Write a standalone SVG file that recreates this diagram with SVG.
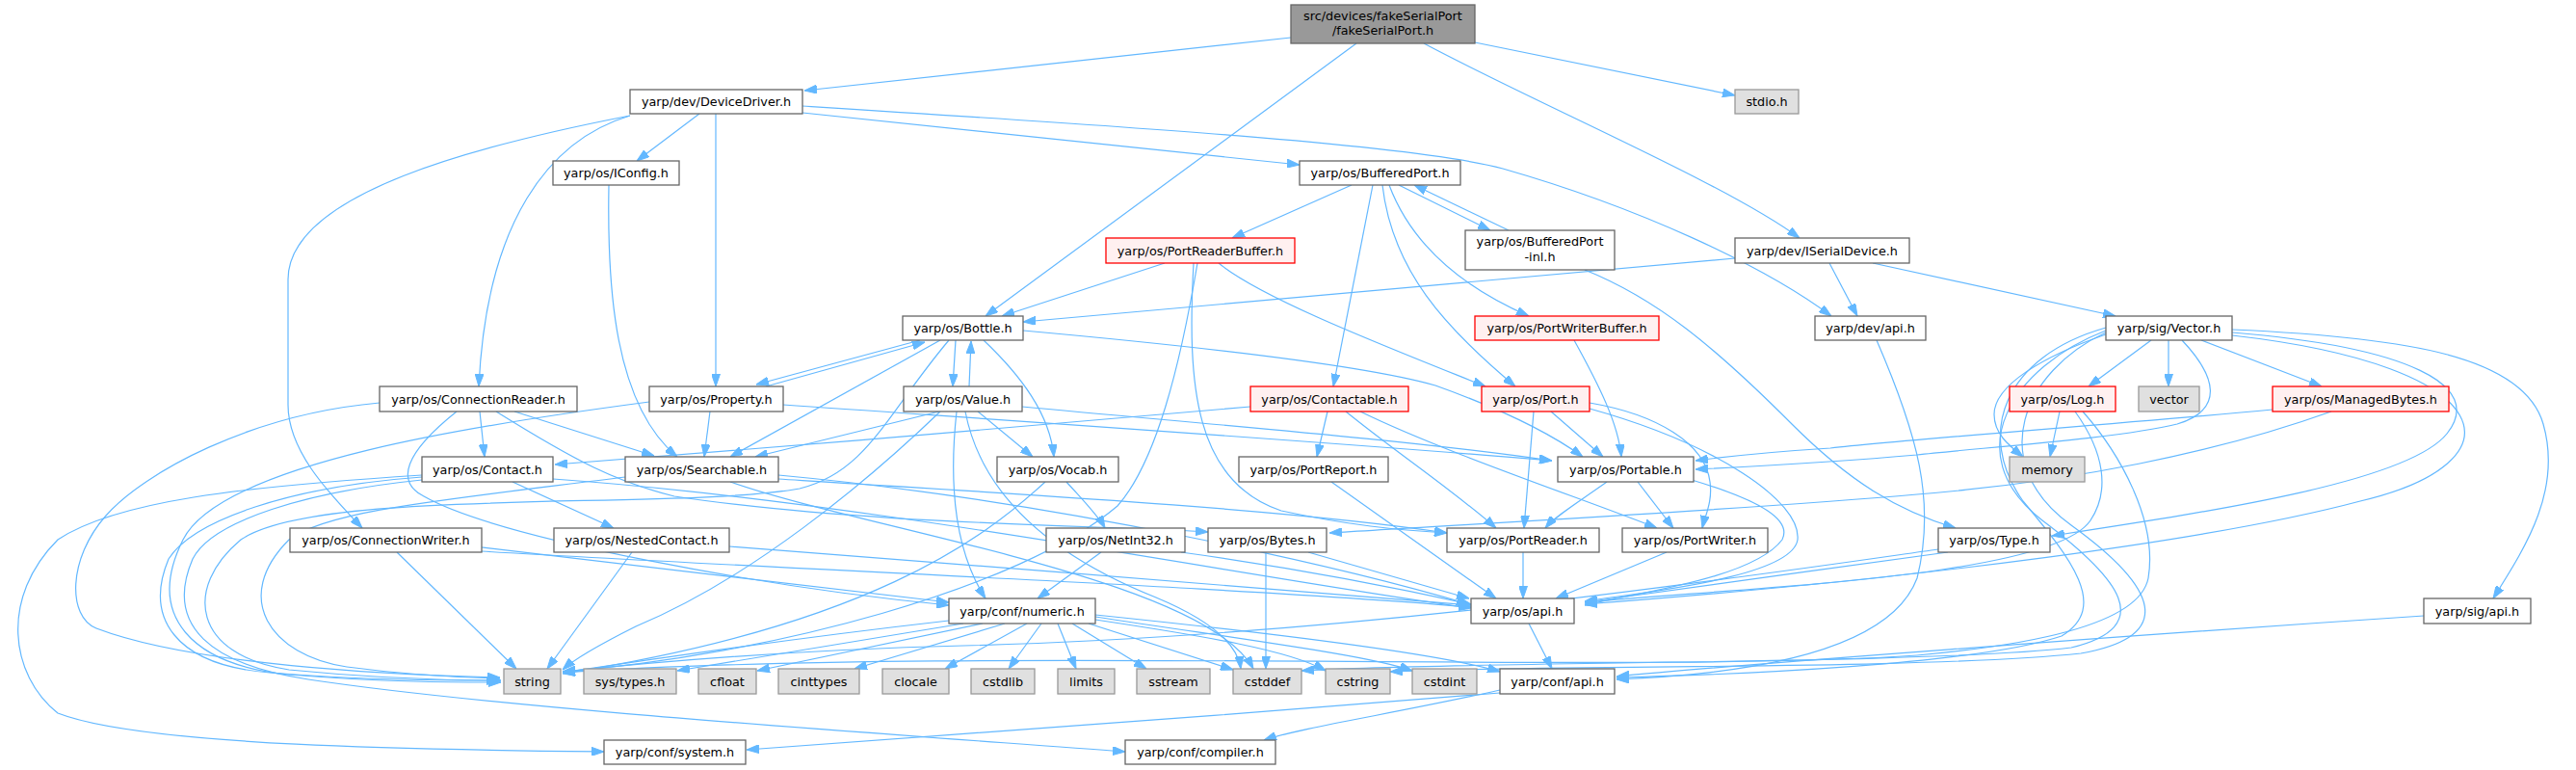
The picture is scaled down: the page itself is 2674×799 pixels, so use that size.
<svg xmlns="http://www.w3.org/2000/svg" width="2674" height="799" viewBox="0 0 2674 799">
<style>
rect{stroke-width:1.3}
.n rect{fill:#ffffff;stroke:#666666}
.g rect{fill:#e0e0e0;stroke:#999999}
.r rect{fill:#fff0f0;stroke:#ff0000}
.t rect{fill:#999999;stroke:#666666}
text{font-family:"DejaVu Sans","Liberation Sans",sans-serif;font-size:12.8px;text-anchor:middle;fill:#000000}
#edges path{fill:none;stroke:#63b8ff;stroke-width:1.2;marker-end:url(#a)}
</style>
<defs>
<marker id="a" viewBox="0 0 13 9" refX="13" refY="4.5" markerWidth="13" markerHeight="9" markerUnits="userSpaceOnUse" orient="auto"><path d="M0,0 L13,4.5 L0,9 z" fill="#63b8ff" stroke="#63b8ff" stroke-width="1"/></marker>
</defs>
<rect width="2674" height="799" fill="#ffffff"/>
<g id="edges">
<path d="M1340,39 L835,94"/>
<path d="M1408,45 L1023,328"/>
<path d="M1531,44 L1801,99"/>
<path d="M1478,45 C1600,110 1790,190 1868,247"/>
<path d="M726,118 L661,167"/>
<path d="M743,118 L743,401"/>
<path d="M654,120 C570,145 505,230 497,401"/>
<path d="M654,120 C500,150 299,200 299,290 L299,420 C299,470 345,515 376,548"/>
<path d="M833,117 L1349,171"/>
<path d="M833,110 C1150,130 1470,150 1560,175 C1700,215 1830,275 1901,328"/>
<path d="M1801,268 L1062,334"/>
<path d="M1899,273 L1928,328"/>
<path d="M1944,273 L2196,328"/>
<path d="M632,192 C630,300 638,420 703,474"/>
<path d="M1403,192 L1279,247"/>
<path d="M1425,192 L1384,401"/>
<path d="M1435,192 C1445,280 1500,340 1573,401"/>
<path d="M1442,192 C1460,240 1500,290 1587,328"/>
<path d="M1452,192 L1547,239"/>
<path d="M1566,239 L1468,192"/>
<path d="M1645,280 C1720,310 1780,360 1860,440 C1920,500 1970,530 2030,548"/>
<path d="M1209,273 L1040,328"/>
<path d="M1265,273 C1310,310 1440,360 1542,401"/>
<path d="M1239,273 C1232,400 1240,500 1330,530 C1400,545 1450,550 1502,553"/>
<path d="M1243,273 C1225,380 1200,480 1160,525 C1060,610 800,680 584,697"/>
<path d="M955,353 L785,399"/>
<path d="M795,401 L960,355"/>
<path d="M992,353 L989,401"/>
<path d="M1006,401 L1008,354"/>
<path d="M976,353 L758,474"/>
<path d="M1021,353 C1060,390 1090,430 1094,474"/>
<path d="M1062,343 C1250,360 1420,380 1490,400 C1560,425 1610,450 1643,474"/>
<path d="M985,353 C920,430 900,490 830,507 C700,530 330,505 250,560 C190,610 200,680 300,695 C400,705 470,706 520,706"/>
<path d="M1948,353 C1990,450 2010,520 1990,600 C1960,680 1800,700 1678,705"/>
<path d="M2233,353 L2168,401"/>
<path d="M2251,353 L2251,401"/>
<path d="M2285,353 L2410,401"/>
<path d="M2186,347 C2120,370 2070,400 2070,430 C2070,450 2085,462 2100,474"/>
<path d="M2265,353 C2300,390 2310,425 2260,440 C2200,455 2050,465 1990,472 C1900,480 1800,485 1760,487"/>
<path d="M2317,345 C2500,360 2580,400 2540,450 C2500,500 2300,530 2130,556"/>
<path d="M2317,348 C2600,380 2620,480 2450,520 C2300,560 2000,600 1645,627"/>
<path d="M2186,340 C2080,370 2050,450 2100,520 C2150,580 2190,630 2140,660 C2050,690 1800,700 1678,703"/>
<path d="M2186,343 C2090,380 2030,470 2120,540 C2200,600 2240,650 2150,672 C2000,690 1500,686 1351,696"/>
<path d="M2186,345 C2100,385 2060,480 2150,545 C2240,610 2260,660 2160,678 C2000,695 1600,690 1443,697"/>
<path d="M2317,342 C2500,350 2620,370 2640,440 C2660,510 2620,570 2588,621"/>
<path d="M2138,427 L2128,474"/>
<path d="M2154,427 C2185,470 2190,510 2170,540 C2130,600 1800,610 1645,625"/>
<path d="M2162,427 C2200,470 2240,540 2230,600 C2220,650 2100,670 1990,680 C1700,700 1000,670 584,698"/>
<path d="M2359,425 C2200,440 1990,455 1900,465 C1820,470 1790,474 1760,478"/>
<path d="M2420,427 C2300,470 2150,500 1990,513 C1800,530 1500,545 1380,553"/>
<path d="M1610,427 L1664,474"/>
<path d="M1592,427 L1582,548"/>
<path d="M1650,418 C1720,430 1770,460 1775,500 C1778,520 1770,535 1767,548"/>
<path d="M1650,424 C1780,460 1870,520 1866,560 C1860,600 1700,615 1645,624"/>
<path d="M1668,500 C1640,520 1615,535 1604,548"/>
<path d="M1700,500 L1737,548"/>
<path d="M1756,498 C1830,520 1860,540 1850,560 C1820,600 1700,615 1645,628"/>
<path d="M1298,422 C1100,440 800,465 576,482"/>
<path d="M1378,427 L1367,474"/>
<path d="M1397,427 C1450,470 1510,510 1553,548"/>
<path d="M1412,427 C1500,470 1650,520 1720,548"/>
<path d="M1382,500 L1553,621"/>
<path d="M1634,353 C1660,400 1680,440 1683,474"/>
<path d="M1581,573 L1581,621"/>
<path d="M1730,573 L1615,621"/>
<path d="M1587,647 L1611,694"/>
<path d="M1314,573 L1314,694"/>
<path d="M1358,573 L1525,621"/>
<path d="M1107,500 C1125,520 1140,535 1147,548"/>
<path d="M1085,500 C1020,560 900,650 584,699"/>
<path d="M1143,573 L1077,621"/>
<path d="M1226,573 C1350,590 1450,610 1527,627"/>
<path d="M975,427 L784,474"/>
<path d="M1015,427 L1072,474"/>
<path d="M1061,422 C1250,440 1450,455 1611,478"/>
<path d="M976,427 C900,500 780,600 660,650 C620,670 595,685 584,695"/>
<path d="M993,427 C985,500 990,570 1023,621"/>
<path d="M1002,427 C1020,520 1100,580 1200,620 C1260,645 1285,670 1288,694"/>
<path d="M737,427 L731,474"/>
<path d="M813,420 C1100,440 1400,460 1611,478"/>
<path d="M674,417 C500,440 230,480 190,560 C150,640 200,690 300,700 C400,708 470,708 520,708"/>
<path d="M808,493 C1100,520 1400,590 1525,627"/>
<path d="M808,497 C1100,515 1350,530 1502,553"/>
<path d="M649,495 C450,520 340,530 300,560 C240,620 280,680 360,692 C420,700 480,703 519,704"/>
<path d="M758,500 C900,550 1250,600 1301,694"/>
<path d="M394,418 C260,430 150,490 110,535 C70,580 70,640 100,652 C200,690 400,700 519,703"/>
<path d="M498,427 L503,474"/>
<path d="M534,427 L679,473"/>
<path d="M474,427 C420,470 410,500 440,515 C520,560 800,610 985,628"/>
<path d="M515,427 C600,480 640,500 700,515 C900,545 1150,545 1254,552"/>
<path d="M532,500 L637,548"/>
<path d="M438,495 C300,505 200,540 175,580 C150,640 180,690 280,698 C380,706 460,706 518,706"/>
<path d="M438,493 C250,505 120,520 60,560 C0,620 10,700 60,740 C150,775 450,778 627,780"/>
<path d="M438,498 C320,510 220,540 200,580 C170,650 220,690 320,705 C520,735 900,760 1168,780"/>
<path d="M574,497 C900,520 1300,600 1527,631"/>
<path d="M412,573 L536,694"/>
<path d="M500,568 C700,590 900,615 985,625"/>
<path d="M500,572 C800,590 1300,610 1527,630"/>
<path d="M656,573 L568,694"/>
<path d="M757,567 C1000,585 1300,610 1527,628"/>
<path d="M985,644 C800,665 650,688 584,698"/>
<path d="M1000,647 L703,696"/>
<path d="M1020,647 L786,696"/>
<path d="M1043,647 L887,694"/>
<path d="M1066,647 L981,694"/>
<path d="M1081,647 L1047,694"/>
<path d="M1098,647 L1117,694"/>
<path d="M1113,647 L1190,694"/>
<path d="M1130,647 L1280,695"/>
<path d="M1137,643 C1250,660 1340,675 1376,696"/>
<path d="M1137,640 C1300,665 1420,680 1466,696"/>
<path d="M1137,638 C1350,660 1500,680 1557,697"/>
<path d="M2012,570 C1800,600 1400,660 1000,670 C800,675 650,690 584,697"/>
<path d="M2022,573 C1900,590 1750,610 1645,625"/>
<path d="M2516,639 C2200,660 1800,690 1678,702"/>
<path d="M1557,719 C1300,740 900,770 775,778"/>
<path d="M1557,716 C1450,740 1350,755 1312,768"/>
</g>
<g id="n1" class="t"><rect x="1340" y="5" width="191" height="40"/><text x="1435.5" y="20.5">src/devices/fakeSerialPort</text><text x="1435.5" y="36">/fakeSerialPort.h</text></g>
<g id="n2" class="n"><rect x="654" y="93" width="179" height="25"/><text x="743.5" y="110">yarp/dev/DeviceDriver.h</text></g>
<g id="n3" class="g"><rect x="1801" y="93" width="66" height="25"/><text x="1834" y="110">stdio.h</text></g>
<g id="n4" class="n"><rect x="574" y="167" width="131" height="25"/><text x="639.5" y="184">yarp/os/IConfig.h</text></g>
<g id="n5" class="n"><rect x="1349" y="167" width="167" height="25"/><text x="1432.5" y="184">yarp/os/BufferedPort.h</text></g>
<g id="n6" class="r"><rect x="1148" y="247" width="196" height="26"/><text x="1246" y="264.5">yarp/os/PortReaderBuffer.h</text></g>
<g id="n7" class="n"><rect x="1521" y="239" width="155" height="41"/><text x="1598.5" y="255">yarp/os/BufferedPort</text><text x="1598.5" y="271">-inl.h</text></g>
<g id="n8" class="n"><rect x="1801" y="247" width="181" height="26"/><text x="1891.5" y="264.5">yarp/dev/ISerialDevice.h</text></g>
<g id="n9" class="n"><rect x="937" y="328" width="125" height="25"/><text x="999.5" y="345">yarp/os/Bottle.h</text></g>
<g id="n10" class="r"><rect x="1531" y="328" width="191" height="25"/><text x="1626.5" y="345">yarp/os/PortWriterBuffer.h</text></g>
<g id="n11" class="n"><rect x="1884" y="328" width="115" height="25"/><text x="1941.5" y="345">yarp/dev/api.h</text></g>
<g id="n12" class="n"><rect x="2186" y="328" width="131" height="25"/><text x="2251.5" y="345">yarp/sig/Vector.h</text></g>
<g id="n13" class="n"><rect x="394" y="401" width="205" height="26"/><text x="496.5" y="418.5">yarp/os/ConnectionReader.h</text></g>
<g id="n14" class="n"><rect x="674" y="401" width="139" height="26"/><text x="743.5" y="418.5">yarp/os/Property.h</text></g>
<g id="n15" class="n"><rect x="938" y="401" width="123" height="26"/><text x="999.5" y="418.5">yarp/os/Value.h</text></g>
<g id="n16" class="r"><rect x="1298" y="401" width="164" height="26"/><text x="1380" y="418.5">yarp/os/Contactable.h</text></g>
<g id="n17" class="r"><rect x="1538" y="401" width="112" height="26"/><text x="1594" y="418.5">yarp/os/Port.h</text></g>
<g id="n18" class="r"><rect x="2086" y="401" width="110" height="26"/><text x="2141" y="418.5">yarp/os/Log.h</text></g>
<g id="n19" class="g"><rect x="2220" y="401" width="63" height="26"/><text x="2251.5" y="418.5">vector</text></g>
<g id="n20" class="r"><rect x="2359" y="401" width="183" height="26"/><text x="2450.5" y="418.5">yarp/os/ManagedBytes.h</text></g>
<g id="n21" class="n"><rect x="438" y="474" width="136" height="26"/><text x="506" y="491.5">yarp/os/Contact.h</text></g>
<g id="n22" class="n"><rect x="649" y="474" width="159" height="26"/><text x="728.5" y="491.5">yarp/os/Searchable.h</text></g>
<g id="n23" class="n"><rect x="1035" y="474" width="126" height="26"/><text x="1098" y="491.5">yarp/os/Vocab.h</text></g>
<g id="n24" class="n"><rect x="1286" y="474" width="155" height="26"/><text x="1363.5" y="491.5">yarp/os/PortReport.h</text></g>
<g id="n25" class="n"><rect x="1617" y="474" width="141" height="26"/><text x="1687.5" y="491.5">yarp/os/Portable.h</text></g>
<g id="n26" class="g"><rect x="2086" y="474" width="78" height="26"/><text x="2125" y="491.5">memory</text></g>
<g id="n27" class="n"><rect x="301" y="548" width="199" height="25"/><text x="400.5" y="565">yarp/os/ConnectionWriter.h</text></g>
<g id="n28" class="n"><rect x="575" y="548" width="182" height="25"/><text x="666" y="565">yarp/os/NestedContact.h</text></g>
<g id="n29" class="n"><rect x="1086" y="548" width="144" height="25"/><text x="1158" y="565">yarp/os/NetInt32.h</text></g>
<g id="n30" class="n"><rect x="1254" y="548" width="123" height="25"/><text x="1315.5" y="565">yarp/os/Bytes.h</text></g>
<g id="n31" class="n"><rect x="1502" y="548" width="158" height="25"/><text x="1581" y="565">yarp/os/PortReader.h</text></g>
<g id="n32" class="n"><rect x="1684" y="548" width="151" height="25"/><text x="1759.5" y="565">yarp/os/PortWriter.h</text></g>
<g id="n33" class="n"><rect x="2012" y="548" width="116" height="25"/><text x="2070" y="565">yarp/os/Type.h</text></g>
<g id="n34" class="n"><rect x="985" y="621" width="152" height="26"/><text x="1061" y="638.5">yarp/conf/numeric.h</text></g>
<g id="n35" class="n"><rect x="1527" y="621" width="107" height="26"/><text x="1580.5" y="638.5">yarp/os/api.h</text></g>
<g id="n36" class="n"><rect x="2516" y="621" width="111" height="26"/><text x="2571.5" y="638.5">yarp/sig/api.h</text></g>
<g id="n37" class="g"><rect x="523" y="694" width="59" height="26"/><text x="552.5" y="711.5">string</text></g>
<g id="n38" class="g"><rect x="606" y="694" width="96" height="26"/><text x="654" y="711.5">sys/types.h</text></g>
<g id="n39" class="g"><rect x="725" y="694" width="60" height="26"/><text x="755" y="711.5">cfloat</text></g>
<g id="n40" class="g"><rect x="808" y="694" width="84" height="26"/><text x="850" y="711.5">cinttypes</text></g>
<g id="n41" class="g"><rect x="916" y="694" width="69" height="26"/><text x="950.5" y="711.5">clocale</text></g>
<g id="n42" class="g"><rect x="1008" y="694" width="66" height="26"/><text x="1041" y="711.5">cstdlib</text></g>
<g id="n43" class="g"><rect x="1098" y="694" width="59" height="26"/><text x="1127.5" y="711.5">limits</text></g>
<g id="n44" class="g"><rect x="1180" y="694" width="76" height="26"/><text x="1218" y="711.5">sstream</text></g>
<g id="n45" class="g"><rect x="1280" y="694" width="71" height="26"/><text x="1315.5" y="711.5">cstddef</text></g>
<g id="n46" class="g"><rect x="1376" y="694" width="67" height="26"/><text x="1409.5" y="711.5">cstring</text></g>
<g id="n47" class="g"><rect x="1466" y="694" width="67" height="26"/><text x="1499.5" y="711.5">cstdint</text></g>
<g id="n48" class="n"><rect x="1557" y="694" width="119" height="26"/><text x="1616.5" y="711.5">yarp/conf/api.h</text></g>
<g id="n49" class="n"><rect x="627" y="768" width="147" height="25"/><text x="700.5" y="785">yarp/conf/system.h</text></g>
<g id="n50" class="n"><rect x="1168" y="768" width="156" height="25"/><text x="1246" y="785">yarp/conf/compiler.h</text></g>
</svg>
